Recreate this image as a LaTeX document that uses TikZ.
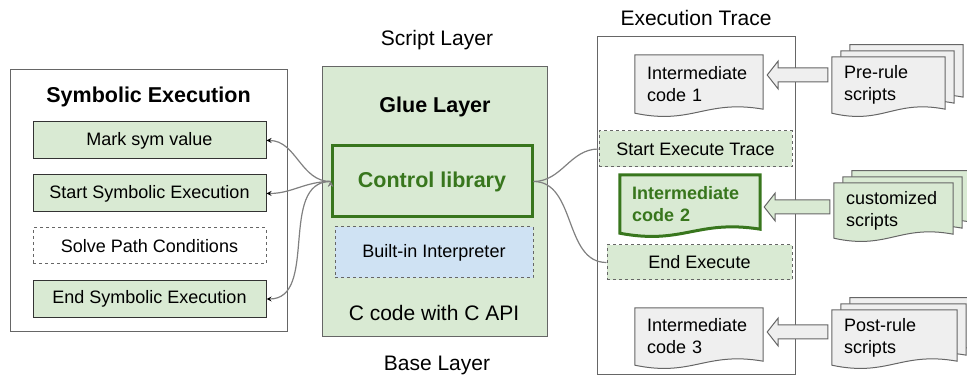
\documentclass[tikz,border=0pt]{standalone}
\usepackage{fontspec}
\setmainfont{Liberation Sans}
\usetikzlibrary{calc,backgrounds}

\definecolor{lightgreen}{HTML}{D9EAD3}
\definecolor{lightblue}{HTML}{CFE2F3}
\definecolor{docgray}{HTML}{EFEFEF}
\definecolor{darkgreen}{HTML}{38761D}
\definecolor{framegray}{HTML}{666666}
\definecolor{linkgray}{HTML}{808080}

% page outline with a wavy bottom, shifted by (#3,#4)
\newcommand\docpage[4]{%
  \draw[#1] ($(#2.north west)+(#3,#4)$) -- ($(#2.north east)+(#3,#4)$)
    -- ($(#2.south east)+(#3,#4-4)$)
    .. controls ($(#2.south west)!0.55!(#2.south east)+(#3,#4-14)$)
    and ($(#2.south west)!0.45!(#2.south east)+(#3,#4+12)$) .. ($(#2.south west)+(#3,#4)$)
    -- cycle;}

% hollow block arrow from #2 (west side) to #3 (east side), raised by #4
\newcommand\blockarrow[4]{%
  \draw[#1] let \p1=(#3.east), \p2=(#2.west) in
    (\x1+4pt,\y2+#4pt) -- (\x1+15pt,\y2+#4pt+14pt) -- (\x1+15pt,\y2+#4pt+7pt)
    -- (\x2-4pt,\y2+#4pt+7pt) -- (\x2-4pt,\y2+#4pt-7pt) -- (\x1+15pt,\y2+#4pt-7pt)
    -- (\x1+15pt,\y2+#4pt-14pt) -- cycle;}

\begin{document}
\begin{tikzpicture}[x=1pt,y=-1pt,>=stealth,
    font=\fontsize{18}{22}\selectfont,
    frame/.style={draw=framegray,line width=1pt,inner sep=0},
    titlefont/.style={font=\fontsize{21.5}{26}\selectfont\bfseries},
    layerfont/.style={font=\fontsize{21}{25}\selectfont},
    greenbox/.style={draw=black!80,fill=lightgreen,line width=1pt,minimum width=233,minimum height=37,inner sep=0},
    dashbox/.style={draw=framegray,dashed,line width=1pt,inner sep=0},
    ctrlbox/.style={draw=darkgreen,fill=lightgreen,line width=3pt,inner sep=0,text=darkgreen,titlefont},
    doc/.style={align=left,inner xsep=12,inner ysep=0},
    graypage/.style={draw=framegray,fill=docgray,line width=1pt},
    greenpage/.style={draw=framegray,fill=lightgreen,line width=1pt},
    darkpage/.style={draw=darkgreen,fill=lightgreen,line width=3pt},
    link/.style={draw=linkgray,line width=1.2pt},
    grayarrow/.style={draw=framegray,fill=docgray,line width=1pt},
    greenarrow/.style={draw=framegray,fill=lightgreen,line width=1pt}]
    \useasboundingbox (0,0) rectangle (967,379);

    % symbolic execution
    \node[frame,minimum width=277,minimum height=262] (symbox) at (148.5,201) {};
    \node[titlefont] (symtitle) at (148.5,97) {Symbolic Execution};
    \node[greenbox] (mark) at (149.5,140.5) {Mark sym value};
    \node[greenbox] (startsym) at (149.5,193.5) {Start Symbolic Execution};
    \node[dashbox,minimum width=233,minimum height=36] (solve) at (149.5,246) {Solve Path Conditions};
    \node[greenbox] (endsym) at (149.5,299) {End Symbolic Execution};

    % layers
    \node[frame,fill=lightgreen,minimum width=225,minimum height=270] (base) at (434.5,202) {};
    \node[layerfont] (scriptlabel) at (437,40) {Script Layer};
    \node[titlefont] (glue) at (435,107) {Glue Layer};
    \node[ctrlbox,minimum width=200,minimum height=71] (ctrl) at (432,181.5) {Control library};
    \node[dashbox,fill=lightblue,minimum width=198,minimum height=51] (interp) at (434,252.5) {Built-in Interpreter};
    \node[layerfont] (ccode) at (434,313) {C code with C API};
    \node[layerfont] (baselabel) at (437,365) {Base Layer};

    % execution trace
    \node[frame,minimum width=198,minimum height=338] (trace) at (696,206) {};
    \node[layerfont] (tracelabel) at (696,18) {Execution Trace};
    \node[doc,text width=104,minimum height=58] (ic1) at (699,84) {Intermediate\\code 1};
    \node[dashbox,fill=lightgreen,minimum width=193,minimum height=36] (startex) at (695.5,149) {Start Execute Trace};
    \node[doc,text width=116,minimum height=58,text=darkgreen,font=\fontsize{18}{22}\selectfont\bfseries] (ic2) at (690,204) {Intermediate\\code 2};
    \node[dashbox,fill=lightgreen,minimum width=185,minimum height=35] (endex) at (699.5,262.5) {End Execute};
    \node[doc,text width=104,minimum height=57] (ic3) at (699,336.5) {Intermediate\\code 3};

    % rule scripts
    \node[doc,text width=89,minimum height=56] (pre) at (888.5,85) {Pre-rule\\scripts};
    \node[doc,text width=95,minimum height=55] (cust) at (893.5,210.5) {customized\\scripts};
    \node[doc,text width=101,minimum height=55] (post) at (894.5,337.5) {Post-rule\\scripts};

    \begin{scope}[on background layer]
        \docpage{graypage}{ic1}{0}{0}
        \docpage{darkpage}{ic2}{0}{0}
        \docpage{graypage}{ic3}{0}{0}
        \foreach \s in {18,9,0} {
            \docpage{graypage}{pre}{\s}{-0.67*\s}
            \docpage{greenpage}{cust}{\s}{-0.67*\s}
            \docpage{graypage}{post}{\s}{-0.67*\s}
        }
    \end{scope}

    \blockarrow{grayarrow}{pre}{ic1}{10}
    \blockarrow{greenarrow}{cust}{ic2}{3.5}
    \blockarrow{grayarrow}{post}{ic3}{5.5}

    \path [link,->] (ctrl.west) edge[out=180,in=0] (mark.east);
    \path [link,->] (ctrl.west) edge[out=180,in=0] (startsym.east);
    \path [link,->] (ctrl.west) edge[out=180,in=0] (endsym.east);
    \path [link] (ctrl.east) edge[out=0,in=180] (startex.west);
    \path [link] (ctrl.east) edge[out=0,in=180] (endex.west);
\end{tikzpicture}
\end{document}
